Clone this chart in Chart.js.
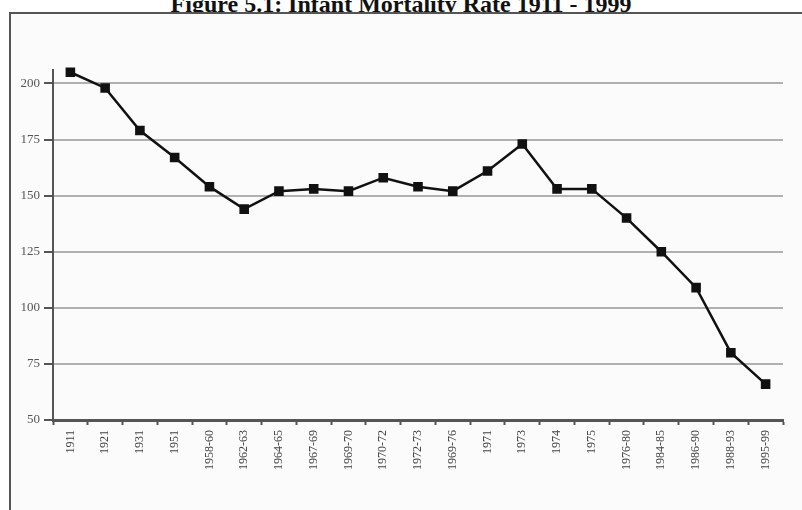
<!DOCTYPE html>
<html>
<head>
  <meta charset="UTF-8">
  <title>Infant Mortality Rate</title>
  <script src="https://cdn.jsdelivr.net/npm/chart.js"></script>
  <style>
    html, body {
      margin: 0;
      padding: 0;
      width: 802px;
      height: 510px;
      overflow: hidden;
      background: #fff;
    }

    .title {
      position: absolute;
      left: 0;
      top: -8px;
      width: 802px;
      text-align: center;
      font: bold 24px "Liberation Serif", "Times New Roman", serif;
      line-height: 24px;
      color: #111;
    }

    .frame {
      position: absolute;
      left: 9px;
      top: 12px;
      width: 820px;
      height: 520px;
      border: 2px solid #555;
      background: #fbfbfb;
    }

    .chart-box {
      position: absolute;
      left: 0;
      top: 0;
      width: 802px;
      height: 510px;
    }
  </style>
</head>
<body>
  <div class="title">Figure 5.1: Infant Mortality Rate 1911 - 1999</div>
  <div class="frame"></div>
  <div class="chart-box">
    <canvas id="mainChart"></canvas>
  </div>

  <script>
    const periods = ['1911', '1921', '1931', '1951', '1958-60', '1962-63', '1964-65', '1967-69',
      '1969-70', '1970-72', '1972-73', '1969-76', '1971', '1973', '1974', '1975',
      '1976-80', '1984-85', '1986-90', '1988-93', '1995-99'];
    const rates = [205, 198, 179, 167, 154, 144, 152, 153, 152, 158, 154, 152, 161, 173, 153, 153,
      140, 125, 109, 80, 66];
    const yTicks = [50, 75, 100, 125, 150, 175, 200];

    const ctx = document.getElementById('mainChart').getContext('2d');

    new Chart(ctx, {
      type: 'line',
      data: {
        labels: periods,
        datasets: [{
          data: rates,
          borderColor: '#111',
          borderWidth: 2.5,
          backgroundColor: '#111',
          pointStyle: 'rect',
          pointRadius: 5,
          tension: 0,
          clip: false
        }]
      },
      options: {
        responsive: true,
        maintainAspectRatio: false,
        animation: false,
        layout: {
          padding: { left: 0, right: 19, top: 70, bottom: 10 }
        },
        plugins: {
          legend: { display: false },
          tooltip: { enabled: false }
        },
        scales: {
          x: {
            offset: true,
            grid: {
              offset: true,
              drawOnChartArea: false,
              tickLength: 5,
              tickColor: '#555',
              tickWidth: 2
            },
            border: { color: '#555', width: 3 },
            ticks: {
              autoSkip: false,
              minRotation: 90,
              maxRotation: 90,
              padding: 5,
              color: '#444',
              font: { family: 'Liberation Serif', size: 12 }
            },
            afterFit: function (scale) {
              scale.height = 80;
            }
          },
          y: {
            min: 50,
            max: 206,
            afterBuildTicks: function (scale) {
              scale.ticks = yTicks.map(v => ({ value: v }));
            },
            grid: {
              color: '#b0b0b0',
              lineWidth: 2,
              tickLength: 9,
              tickColor: '#555',
              tickWidth: 2
            },
            border: { color: '#555', width: 2 },
            ticks: {
              padding: 4,
              color: '#555',
              font: { family: 'Liberation Serif', size: 13 }
            },
            afterFit: function (scale) {
              scale.width = 53;
            }
          }
        }
      }
    });
  </script>
</body>
</html>
